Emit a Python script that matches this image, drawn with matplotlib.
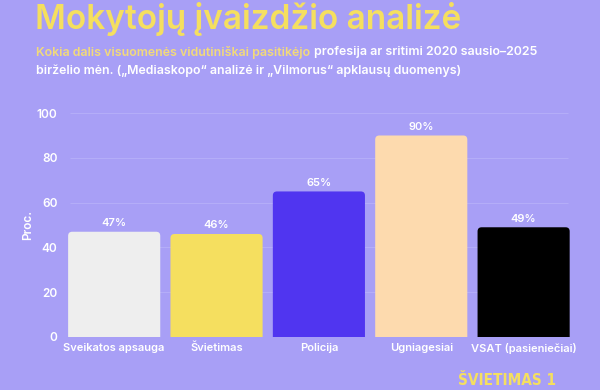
import matplotlib
matplotlib.use("Agg")
import matplotlib.pyplot as plt
from matplotlib.patches import FancyBboxPatch

categories = ["Sveikatos apsauga", "Švietimas", "Policija", "Ugniagesiai", "VSAT (pasieniečiai)"]
values = [47, 46, 65, 90, 49]
bar_colors = ["#EEEEEE", "#F5DF5F", "#5035F0", "#FDDAAE", "#000000"]
y_ticks = [0, 20, 40, 60, 80, 100]

bg = "#A89FF6"
yellow = "#F5DF5F"
plt.rcParams["font.family"] = ["Inter", "DejaVu Sans"]

fig = plt.figure(figsize=(6, 3.9), dpi=100, facecolor=bg)
ax = fig.add_axes([0.105, 0.136, 0.853, 0.574])
ax.set_facecolor(bg)

width = 0.9
px_x = 512 / len(categories)  # pixels per x unit
px_y = 224 / 100.0
aspect = px_x / px_y
for i, (v, c) in enumerate(zip(values, bar_colors)):
    patch = FancyBboxPatch((i - width / 2, -10), width, v + 10,
                           boxstyle="round,pad=0,rounding_size=0.04",
                           mutation_aspect=aspect, facecolor=c, edgecolor="none",
                           zorder=3)
    ax.add_patch(patch)
    ax.text(i, v + 1.6, f"{v}%", ha="center", va="bottom", color="white",
            fontsize=8, fontweight="semibold", zorder=4)

for t in y_ticks[1:]:
    ax.hlines(t, -0.43, 4.43, color="#B4ADF8", lw=0.8, zorder=1)

ax.set_xlim(-0.5, len(categories) - 0.5)
ax.set_ylim(0, 100)
ax.set_xticks(range(len(categories)))
ax.set_xticklabels(categories, color="white", fontsize=8, fontweight="semibold")
ax.set_yticks(y_ticks)
ax.set_yticklabels([str(t) for t in y_ticks], color="white", fontsize=8.5, fontweight="semibold")
ax.tick_params(length=0, pad=4)
ax.tick_params(axis="y", pad=4)
for s in ax.spines.values():
    s.set_visible(False)
ax.set_ylabel("Proc.", color="white", fontsize=8.5, fontweight="semibold", labelpad=2)

fig.text(0.058, 0.950, "Mokytojų įvaizdžio analizė", color=yellow, fontsize=24,
         fontweight="semibold", va="center", ha="left")
t1 = fig.text(0.060, 0.866, "Kokia dalis visuomenės vidutiniškai pasitikėjo", color="#F2DA7A",
              fontsize=8.9, fontweight="semibold", va="center", ha="left")
fig.canvas.draw()
bb = t1.get_window_extent()
fig.text(bb.x1 / fig.bbox.width + 0.007, 0.866, "profesija ar sritimi 2020 sausio–2025",
         color="white", fontsize=8.9, fontweight="semibold", va="center", ha="left")
fig.text(0.060, 0.818, "birželio mėn. („Mediaskopo“ analizė ir „Vilmorus“ apklausų duomenys)",
         color="white", fontsize=8.9, fontweight="semibold", va="center", ha="left")
fig.text(0.763, 0.004, "ŠVIETIMAS 1", color=yellow, fontsize=11, fontweight="bold",
         fontstretch="condensed", family="DejaVu Sans", va="bottom", ha="left")

fig.savefig("out.png", facecolor=bg)
